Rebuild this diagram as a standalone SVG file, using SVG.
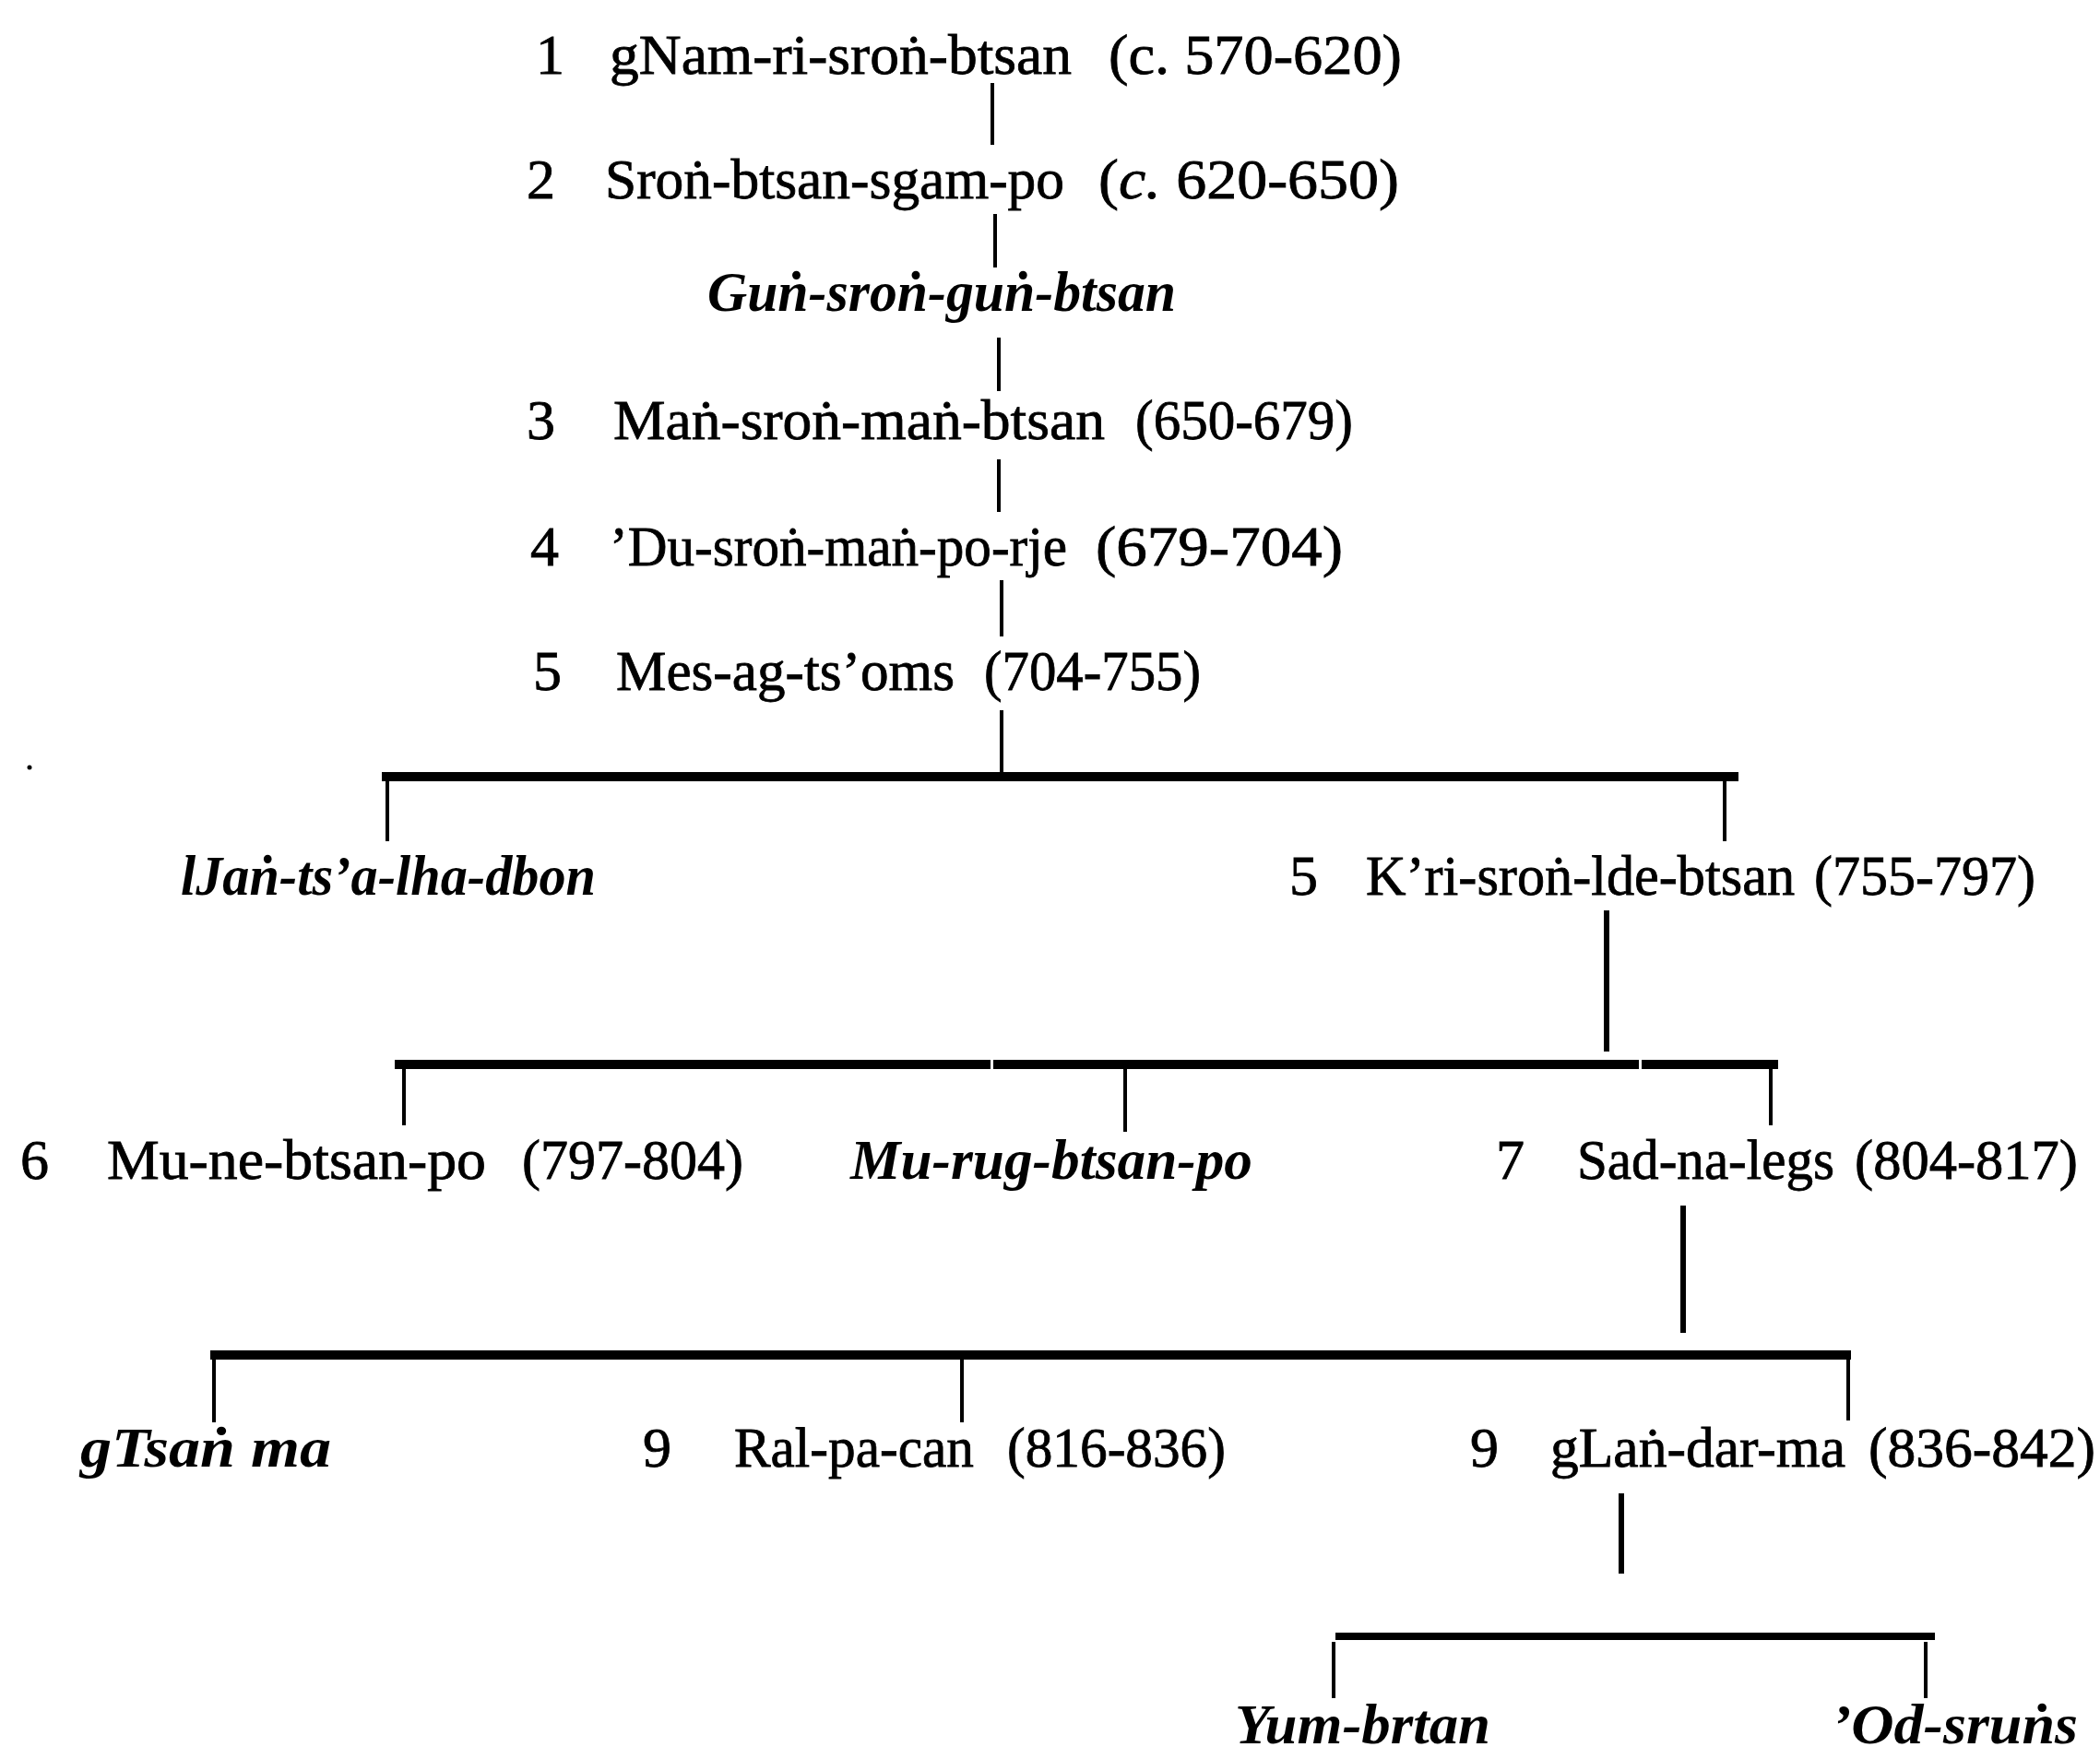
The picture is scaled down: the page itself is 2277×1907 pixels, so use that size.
<svg xmlns="http://www.w3.org/2000/svg" width="2277" height="1907" viewBox="0 0 2277 1907">
<style>
text{font-family:"Liberation Serif","Times New Roman",serif;font-size:62px;fill:#000;stroke:#000;stroke-width:0.8}
.it{font-style:italic;font-weight:bold;stroke-width:0}
.ln{stroke:#000;stroke-width:4;fill:none}
.tk{stroke:#000;stroke-width:6;fill:none}
.bar{stroke:#000;stroke-width:10;fill:none}
</style>
<rect width="2277" height="1907" fill="#fff"/>
<circle cx="32" cy="832" r="2.5" fill="#000"/>
<g id="connectors">
<line class="ln" x1="1076" y1="90" x2="1076" y2="157"/>
<line class="ln" x1="1079" y1="232" x2="1079" y2="290"/>
<line class="ln" x1="1083" y1="366" x2="1083" y2="424"/>
<line class="ln" x1="1083" y1="498" x2="1083" y2="555"/>
<line class="ln" x1="1086" y1="629" x2="1086" y2="690"/>
<line class="ln" x1="1086" y1="770" x2="1086" y2="839"/>
<line class="bar" x1="414" y1="842" x2="1885" y2="842"/>
<line class="ln" x1="420" y1="845" x2="420" y2="912"/>
<line class="ln" x1="1870" y1="845" x2="1870" y2="912"/>
<line class="tk" x1="1742" y1="987" x2="1742" y2="1140"/>
<line class="bar" x1="428" y1="1154" x2="1074" y2="1154"/>
<line class="bar" x1="1077" y1="1154" x2="1777" y2="1154"/>
<line class="bar" x1="1780" y1="1154" x2="1928" y2="1154"/>
<line class="ln" x1="438" y1="1158" x2="438" y2="1220"/>
<line class="ln" x1="1220" y1="1158" x2="1220" y2="1227"/>
<line class="ln" x1="1920" y1="1158" x2="1920" y2="1220"/>
<line class="tk" x1="1825" y1="1307" x2="1825" y2="1445"/>
<line class="bar" x1="228" y1="1469" x2="2007" y2="1469"/>
<line class="ln" x1="232" y1="1473" x2="232" y2="1542"/>
<line class="ln" x1="1043" y1="1473" x2="1043" y2="1542"/>
<line class="ln" x1="2004" y1="1473" x2="2004" y2="1540"/>
<line class="tk" x1="1758" y1="1619" x2="1758" y2="1706"/>
<line class="bar" style="stroke-width:8" x1="1448" y1="1774" x2="2098" y2="1774"/>
<line class="ln" x1="1446" y1="1780" x2="1446" y2="1841"/>
<line class="ln" x1="2088" y1="1780" x2="2088" y2="1841"/>
</g>
<g id="n1"><text x="581" y="80">1</text><text x="661" y="80" textLength="501" lengthAdjust="spacingAndGlyphs">gNam-ri-sroṅ-btsan</text><text x="1202" y="80" textLength="318" lengthAdjust="spacingAndGlyphs">(c.  570-620)</text></g>
<g id="n2"><text x="571" y="215">2</text><text x="656" y="215" textLength="498" lengthAdjust="spacingAndGlyphs">Sroṅ-btsan-sgam-po</text><text x="1191" y="215" textLength="326" lengthAdjust="spacingAndGlyphs">(<tspan font-style="italic">c.</tspan>  620-650)</text></g>
<g id="n2b"><text class="it" x="767" y="337" textLength="508" lengthAdjust="spacingAndGlyphs">Guṅ-sroṅ-guṅ-btsan</text></g>
<g id="n3"><text x="571" y="476">3</text><text x="665" y="476" textLength="533" lengthAdjust="spacingAndGlyphs">Maṅ-sroṅ-maṅ-btsan</text><text x="1231" y="476" textLength="236" lengthAdjust="spacingAndGlyphs">(650-679)</text></g>
<g id="n4"><text x="575" y="613">4</text><text x="661" y="613" textLength="496" lengthAdjust="spacingAndGlyphs">’Du-sroṅ-maṅ-po-rje</text><text x="1188" y="613" textLength="268" lengthAdjust="spacingAndGlyphs">(679-704)</text></g>
<g id="n5"><text x="578" y="748">5</text><text x="668" y="748" textLength="367" lengthAdjust="spacingAndGlyphs">Mes-ag-ts’oms</text><text x="1067" y="748" textLength="235" lengthAdjust="spacingAndGlyphs">(704-755)</text></g>
<g id="n5a"><text class="it" x="196" y="970" textLength="450" lengthAdjust="spacingAndGlyphs">lJaṅ-ts’a-lha-dbon</text></g>
<g id="n5b"><text x="1398" y="970">5</text><text x="1481" y="970" textLength="465" lengthAdjust="spacingAndGlyphs">K’ri-sroṅ-lde-btsan</text><text x="1967" y="970" textLength="240" lengthAdjust="spacingAndGlyphs">(755-797)</text></g>
<g id="n6"><text x="22" y="1278">6</text><text x="116" y="1278" textLength="411" lengthAdjust="spacingAndGlyphs">Mu-ne-btsan-po</text><text x="566" y="1278" textLength="240" lengthAdjust="spacingAndGlyphs">(797-804)</text></g>
<g id="n6b"><text class="it" x="922" y="1278" textLength="436" lengthAdjust="spacingAndGlyphs">Mu-rug-btsan-po</text></g>
<g id="n7"><text x="1622" y="1278">7</text><text x="1710" y="1278" textLength="279" lengthAdjust="spacingAndGlyphs">Sad-na-legs</text><text x="2011" y="1278" textLength="242" lengthAdjust="spacingAndGlyphs">(804-817)</text></g>
<g id="n8a"><text class="it" x="87" y="1590" textLength="272" lengthAdjust="spacingAndGlyphs">gTsaṅ ma</text></g>
<g id="n8b"><text x="697" y="1590">9</text><text x="796" y="1590" textLength="260" lengthAdjust="spacingAndGlyphs">Ral-pa-can</text><text x="1092" y="1590" textLength="237" lengthAdjust="spacingAndGlyphs">(816-836)</text></g>
<g id="n8c"><text x="1594" y="1590">9</text><text x="1681" y="1590" textLength="320" lengthAdjust="spacingAndGlyphs">gLaṅ-dar-ma</text><text x="2026" y="1590" textLength="246" lengthAdjust="spacingAndGlyphs">(836-842)</text></g>
<g id="n9a"><text class="it" x="1339" y="1890" textLength="277" lengthAdjust="spacingAndGlyphs">Yum-brtan</text></g>
<g id="n9b"><text class="it" x="1986" y="1890" textLength="267" lengthAdjust="spacingAndGlyphs">’Od-sruṅs</text></g>
</svg>
